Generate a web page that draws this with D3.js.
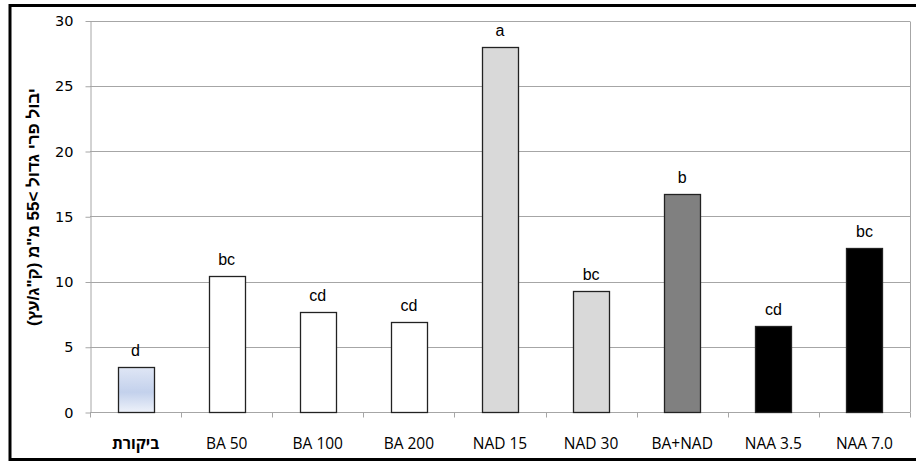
<!DOCTYPE html>
<html><head><meta charset="utf-8">
<script src="https://cdn.jsdelivr.net/npm/d3@7"></script>
<style>body{margin:0;background:#fff}svg{display:block}</style>
</head><body>
<svg id="c" width="916" height="461"></svg>
<script>
const categories = ["ביקורת","BA 50","BA 100","BA 200","NAD 15","NAD 30","BA+NAD","NAA 3.5","NAA 7.0"];
const values = [3.45, 10.4, 7.7, 6.9, 28.0, 9.3, 16.7, 6.6, 12.6];
const letters = ["d","bc","cd","cd","a","bc","b","cd","bc"];
const fills = ["url(#grad)","#ffffff","#ffffff","#ffffff","#d9d9d9","#d9d9d9","#808080","#000000","#000000"];
const yTicks = [0,5,10,15,20,25,30];
const yLabel = "יבול פרי גדול >55 מ\"מ (ק\"ג/עץ)";

const svg = d3.select("#c");
const defs = svg.append("defs");
const g = defs.append("linearGradient").attr("id","grad").attr("x1",0).attr("y1",0).attr("x2",0).attr("y2",1);
g.append("stop").attr("offset","0%").attr("stop-color","#dfe6f5");
g.append("stop").attr("offset","55%").attr("stop-color","#c3d1ec");
g.append("stop").attr("offset","100%").attr("stop-color","#eef2fa");

const L=90, R=910, T=20.5, B=412;
const x = d3.scaleBand().domain(categories).range([L,R]).paddingInner(0.605).paddingOuter(0.3025);
const y = d3.scaleLinear().domain([0,30]).range([B,T]);

// frame
svg.append("rect").attr("x",10).attr("y",5.5).attr("width",920).attr("height",454).attr("fill","none").attr("stroke","#000").attr("stroke-width",3);

// gridlines
svg.append("g").selectAll("line").data(yTicks).join("line")
  .attr("x1",L).attr("x2",R).attr("y1",d=>Math.round(y(d))+0.5).attr("y2",d=>Math.round(y(d))+0.5)
  .attr("stroke","#a6a6a6").attr("stroke-width",1);
// right border
svg.append("line").attr("x1",R+0.5).attr("x2",R+0.5).attr("y1",Math.round(T)+0.5).attr("y2",B+0.5).attr("stroke","#a6a6a6");

// y axis
const ya = svg.append("g").attr("transform",`translate(${L+0.5},0.5)`)
  .call(d3.axisLeft(y).tickValues(yTicks).tickSize(5).tickPadding(12).tickSizeOuter(0));
ya.select(".domain").attr("stroke","#a6a6a6");
ya.selectAll(".tick line").attr("stroke","#a6a6a6");
ya.selectAll(".tick text").attr("font-family","DejaVu Sans").attr("font-size",14.5).attr("fill","#000");

// x axis
const xBound = d3.scaleLinear().domain([0,categories.length]).range([L,R]);
const xa = svg.append("g").attr("transform",`translate(0,${B+0.5})`);
xa.append("line").attr("x1",L).attr("x2",R).attr("stroke","#a6a6a6");
xa.selectAll("line.t").data(d3.range(categories.length+1)).join("line").attr("class","t")
  .attr("x1",d=>Math.round(xBound(d))+0.5).attr("x2",d=>Math.round(xBound(d))+0.5).attr("y1",0).attr("y2",5).attr("stroke","#a6a6a6");
xa.selectAll("text").data(categories).join("text")
  .attr("x",d=>x(d)+x.bandwidth()/2).attr("y",36.5)
  .attr("text-anchor","middle").attr("font-family","Open Sans").attr("font-size",15.5)
  .attr("font-weight",(d,i)=>i===0?"bold":"normal")
  .attr("fill","#000").text(d=>d);

// bars
svg.append("g").selectAll("rect").data(values).join("rect")
  .attr("x",(d,i)=>Math.round(x(categories[i]))+0.5).attr("y",d=>Math.round(y(d))+0.5)
  .attr("width",Math.round(x.bandwidth())).attr("height",d=>B-Math.round(y(d)))
  .attr("fill",(d,i)=>fills[i]).attr("stroke","#222").attr("stroke-width",1.3);

// letters
svg.append("g").selectAll("text").data(values).join("text")
  .attr("x",(d,i)=>x(categories[i])+x.bandwidth()/2).attr("y",d=>y(d)-11)
  .attr("text-anchor","middle").attr("font-family","Liberation Sans").attr("font-size",16)
  .attr("fill","#000").text((d,i)=>letters[i]);

// y label
svg.append("text").attr("transform","translate(39,207) rotate(-90)")
  .attr("text-anchor","middle").attr("direction","rtl").attr("font-family","Liberation Sans")
  .attr("font-weight","bold").attr("font-size",17).attr("fill","#000").text(yLabel);
</script>
</body></html>
